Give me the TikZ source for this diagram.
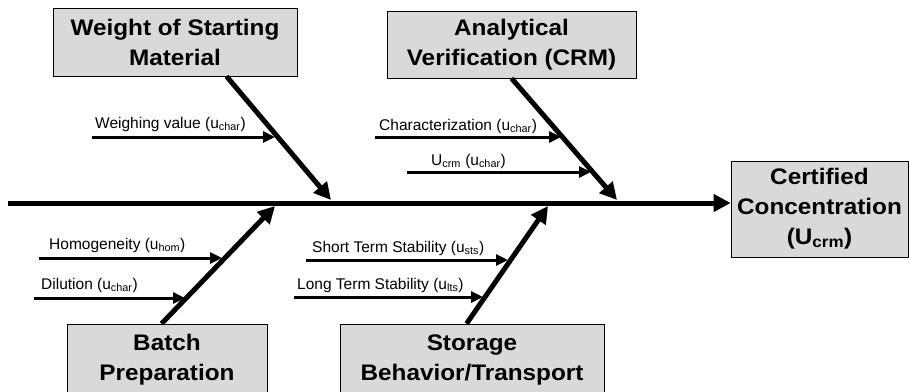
\documentclass[tikz,border=0pt]{standalone}
\usepackage{fontspec}
\setmainfont{Liberation Sans}
\newfontfamily\boxfont[FakeStretch=1.08]{Liberation Sans}
\usetikzlibrary{arrows.meta,calc}
\definecolor{boxgray}{RGB}{217,217,217}
\begin{document}
\begin{tikzpicture}[x=1pt,y=-1pt,
 cause/.style={draw=black,line width=0.8pt,fill=boxgray,align=center,font=\boxfont\bfseries\fontsize{22.5}{30}\selectfont,inner sep=0pt},
 bone/.style={line width=5pt,-{Triangle[length=17pt,width=17pt]}},
 spine/.style={line width=5pt,-{Triangle[length=17pt,width=17pt]}},
 sub/.style={line width=3pt,-{Triangle[length=12pt,width=11pt]}},
 lbl/.style={anchor=base west,inner sep=0pt,font=\fontsize{15.5}{18}\selectfont}]
\useasboundingbox (0,0) rectangle (909,391);
% cause boxes
\node[cause,minimum width=244pt,minimum height=68pt] (w) at (175,42) {Weight of Starting\\Material};
\node[cause,minimum width=249pt,minimum height=67pt] (a) at (511.5,44.5) {Analytical\\Verification (CRM)};
\node[cause,minimum width=200pt,minimum height=72pt] (b) at (167,360) {Batch\\Preparation};
\node[cause,minimum width=264pt,minimum height=72pt] (s) at (472,360) {Storage\\Behavior/Transport};
\node[cause,minimum width=177pt,minimum height=96pt] (r) at (819.5,209) {Certified\\Concentration\\(U\textsubscript{crm})};
% spine
\coordinate (s0) at (8,203);
\draw[spine] (s0) -- (s0 -| r.west);
% bone tips on spine
\coordinate (tw) at (331,200);
\coordinate (ta) at (617,200);
\coordinate (tb) at (275,206);
\coordinate (ts) at (548,206);
\draw[bone] (w.south west) ++(174,0) -- (tw);
\draw[bone] (a.south west) ++(125,0) -- (ta);
\draw[bone] (b.north west) ++(95,0) -- (tb);
\draw[bone] (s.north west) ++(127,0) -- (ts);
% sub causes
\coordinate (w1s) at (92,137); \coordinate (w1e) at (275,137);
\draw[sub] (w1s) -- (w1e);
\node[lbl] (w1l) at (95,128) {Weighing value (u\textsubscript{char})};
\coordinate (a1s) at (375,137); \coordinate (a1e) at (561,137);
\draw[sub] (a1s) -- (a1e);
\node[lbl] (a1l) at (379,130) {Characterization (u\textsubscript{char})};
\coordinate (a2s) at (407,172); \coordinate (a2e) at (591,172);
\draw[sub] (a2s) -- (a2e);
\node[lbl] (a2l) at (431,165) {U\textsubscript{crm} (u\textsubscript{char})};
\coordinate (b1s) at (39,258); \coordinate (b1e) at (222,258);
\draw[sub] (b1s) -- (b1e);
\node[lbl] (b1l) at (49,249) {Homogeneity (u\textsubscript{hom})};
\coordinate (b2s) at (34,298); \coordinate (b2e) at (185,298);
\draw[sub] (b2s) -- (b2e);
\node[lbl] (b2l) at (41,289) {Dilution (u\textsubscript{char})};
\coordinate (s1s) at (306,260); \coordinate (s1e) at (508,260);
\draw[sub] (s1s) -- (s1e);
\node[lbl] (s1l) at (312,252) {Short Term Stability (u\textsubscript{sts})};
\coordinate (s2s) at (294,297); \coordinate (s2e) at (483,297);
\draw[sub] (s2s) -- (s2e);
\node[lbl] (s2l) at (297,289) {Long Term Stability (u\textsubscript{lts})};
\end{tikzpicture}
\end{document}
